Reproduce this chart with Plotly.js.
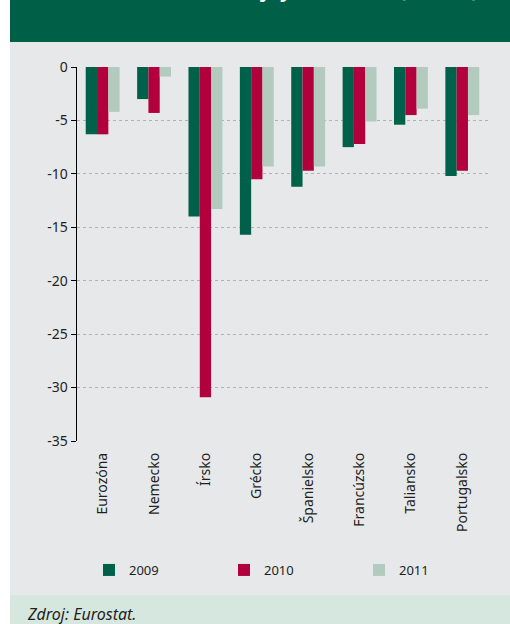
<!DOCTYPE html>
<html>
<head>
<meta charset="utf-8">
<script src="https://cdn.plot.ly/plotly-3.0.1.min.js"></script>
<style>html,body{margin:0;padding:0;background:#fff;}#chart{width:510px;height:624px;}</style>
</head>
<body>
<div id="chart"></div>
<script>
// Data
var categories = ["Eurozóna", "Nemecko", "Írsko", "Grécko", "Španielsko", "Francúzsko", "Taliansko", "Portugalsko"];
var values2009 = [-6.3, -3.0, -14.0, -15.7, -11.2, -7.5, -5.4, -10.2];
var values2010 = [-6.3, -4.3, -30.9, -10.5, -9.7, -7.2, -4.5, -9.7];
var values2011 = [-4.2, -0.9, -13.3, -9.3, -9.3, -5.1, -3.9, -4.5];
var seriesNames = ["2009", "2010", "2011"];
var yTickVals = [0, -5, -10, -15, -20, -25, -30, -35];
var yTickText = ["0", "-5", "-10", "-15", "-20", "-25", "-30", "-35"];
var boundaryTicks = [-0.5, 0.5, 1.5, 2.5, 3.5, 4.5, 5.5, 6.5, 7.5];
var titleText = "Saldo verejných financií (% HDP)";
var sourceText = "Zdroj: Eurostat.";

var FONT = "Noto Sans, Open Sans, sans-serif";
var colors = ["#00614a", "#b1003c", "#b3cbbe"];

var traces = [values2009, values2010, values2011].map(function (v, i) {
  return {
    type: "bar",
    x: categories,
    y: v,
    name: seriesNames[i],
    marker: { color: colors[i], line: { width: 0 } },
    hoverinfo: "x+y+name"
  };
});

// geometry helpers (pixels -> paper)
var L = 77, R = 22, T = 67, B = 183, W = 510, H = 624;
var pw = W - L - R, ph = H - T - B;
function px(x) { return (x - L) / pw; }
function py(y) { return 1 - (y - T) / ph; }

var layout = {
  width: W, height: H,
  margin: { l: L, r: R, t: T, b: B, pad: 0 },
  paper_bgcolor: "#ffffff",
  plot_bgcolor: "#e7e8ea",
  font: { family: FONT, size: 13, color: "#231f20" },
  barmode: "group",
  bargap: 0.34,
  bargroupgap: 0,
  showlegend: true,
  legend: {
    orientation: "h",
    x: px(89), xanchor: "left",
    y: py(570), yanchor: "middle",
    entrywidth: 90, entrywidthmode: "pixels",
    bgcolor: "rgba(0,0,0,0)",
    font: { family: FONT, size: 13, color: "#231f20" },
    traceorder: "normal"
  },
  xaxis: {
    type: "category",
    tickangle: -90,
    ticks: "",
    showline: false,
    showgrid: false,
    zeroline: false,
    ticklabelstandoff: 8,
    tickfont: { family: FONT, size: 14, color: "#231f20" }
  },
  xaxis2: {
    overlaying: "x",
    anchor: "y",
    side: "top",
    range: [-0.5, 7.5],
    tickmode: "array",
    tickvals: boundaryTicks,
    ticks: "inside",
    ticklen: 4,
    tickwidth: 1.5,
    tickcolor: "#222",
    showticklabels: false,
    showline: true,
    linecolor: "#000",
    linewidth: 1.5,
    showgrid: false,
    zeroline: false
  },
  yaxis: {
    range: [-35, 0],
    tickmode: "array",
    tickvals: yTickVals,
    ticktext: yTickText,
    ticks: "outside",
    ticklen: 5,
    tickcolor: "#000",
    showline: true,
    linecolor: "#000",
    linewidth: 1.5,
    showgrid: true,
    gridcolor: "#b3b3b3",
    griddash: "dot",
    gridwidth: 1,
    zeroline: false,
    tickfont: { family: FONT, size: 14, color: "#231f20" }
  },
  shapes: [
    { type: "rect", xref: "paper", yref: "paper", layer: "below",
      x0: px(10), x1: px(510), y0: py(42), y1: py(595),
      fillcolor: "#e7e8ea", line: { width: 0 } },
    { type: "rect", xref: "paper", yref: "paper", layer: "below",
      x0: px(10), x1: px(510), y0: py(0), y1: py(42),
      fillcolor: "#005f47", line: { width: 0 } },
    { type: "rect", xref: "paper", yref: "paper", layer: "below",
      x0: px(10), x1: px(510), y0: py(595), y1: py(624),
      fillcolor: "#d6e7df", line: { width: 0 } }
  ],
  annotations: [
    { text: titleText, xref: "paper", yref: "paper",
      x: px(480), xanchor: "right", y: py(0), yanchor: "bottom", yshift: -5,
      showarrow: false, font: { family: FONT, size: 20, color: "#ffffff", weight: "bold" } },
    { text: "<i>" + sourceText + "</i>", xref: "paper", yref: "paper",
      x: px(25), xanchor: "left", y: py(614), yanchor: "middle",
      showarrow: false, font: { family: FONT, size: 16, color: "#231f20" } }
  ]
};

Plotly.newPlot("chart", traces, layout, { displayModeBar: false, staticPlot: true });
</script>
</body>
</html>
